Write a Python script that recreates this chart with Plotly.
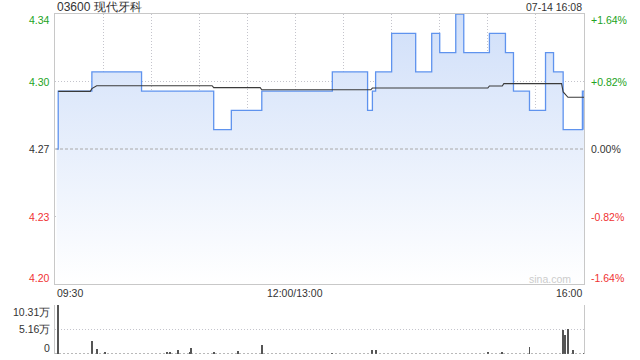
import plotly.graph_objects as go

# ---------------- data ----------------
title_text = "03600 现代牙科"
stamp_text = "07-14 16:08"
prev_close = 4.27
price_ticks = [4.20, 4.235, 4.27, 4.305, 4.34]
price_tick_labels = ["4.20", "4.23", "4.27", "4.30", "4.34"]
pct_tick_labels = ["-1.64%", "-0.82%", "0.00%", "+0.82%", "+1.64%"]
vol_ticks = [0, 51550, 103100]
vol_tick_labels = ["0", "5.16万", "10.31万"]
x_labels = ["09:30", "12:00/13:00", "16:00"]

price_times = ["09:31", "09:32", "09:53", "10:24", "11:09", "11:20", "11:39",
               "13:23", "13:45", "13:48", "13:50", "14:00", "14:15", "14:25",
               "14:30", "14:40", "14:45", "15:01", "15:11", "15:16", "15:26",
               "15:36", "15:41", "15:47", "15:59", "16:00"]
price_vals = [4.27, 4.30, 4.31, 4.30, 4.28, 4.29, 4.30,
              4.31, 4.29, 4.30, 4.31, 4.33, 4.31, 4.33,
              4.32, 4.34, 4.32, 4.33, 4.32, 4.30, 4.29,
              4.32, 4.31, 4.28, 4.30, 4.28]

avg_times = ["09:32", "09:52", "09:53", "09:55", "09:56", "11:08", "11:09",
             "11:38", "11:39", "13:47", "13:48", "15:00", "15:01", "15:09",
             "15:10", "15:46", "15:47", "15:50", "16:00"]
avg_vals = [4.2999, 4.2999, 4.3013, 4.3023, 4.3028, 4.3028, 4.3018,
            4.3018, 4.3007, 4.3007, 4.3016, 4.3016, 4.3027, 4.3027,
            4.3039, 4.3039, 4.2996, 4.2968, 4.2968]

vol_times = ["09:32", "09:53", "09:56", "10:01", "10:40", "10:42", "10:47",
             "10:54", "10:55", "11:09", "11:24", "11:39", "13:23", "13:48",
             "13:50", "15:00", "15:09", "15:26", "15:47", "15:48", "15:50",
             "15:53", "16:00"]
vol_vals = [103100, 28000, 11000, 4800, 4000, 4000, 9000,
            3500, 13000, 3500, 7000, 19500, 2000, 9000,
            9000, 3000, 5000, 14000, 51000, 39000, 53000,
            9000, 1500]


def to_min(t):
    h, m = map(int, t.split(":"))
    v = h * 60 + m - 570
    if h >= 13:
        v -= 60
    return v


px = [to_min(t) for t in price_times]
ax = [to_min(t) for t in avg_times]
vx = [to_min(t) for t in vol_times]
x_label_pos = [to_min(t) for t in ["09:30", "12:00", "16:00"]]
grid_x = list(range(30, 330, 30))

GREEN = "#22a322"
RED = "#f03232"
DARK = "#333333"
FONT = "Liberation Sans, Arial, sans-serif"
GRID = "#c4c4cc"
GDASH = "1px,2px"

fig = go.Figure()
fig.add_trace(go.Scatter(
    x=px, y=price_vals, mode="lines", line=dict(color="#5f93ee", width=1.3, shape="hv"),
    fill="tozeroy",
    fillgradient=dict(type="vertical",
                      colorscale=[[0, "rgba(255,255,255,1)"], [1, "rgb(208,223,249)"]],
                      start=price_ticks[0], stop=price_ticks[-1]),
    xaxis="x", yaxis="y", hoverinfo="skip"))
fig.add_trace(go.Scatter(
    x=ax, y=avg_vals, mode="lines", line=dict(color="#3a3a3a", width=1.1),
    xaxis="x", yaxis="y", hoverinfo="skip"))
fig.add_trace(go.Bar(
    x=vx, y=vol_vals, width=0.62, marker=dict(color="#555555", line=dict(width=0)),
    xaxis="x2", yaxis="y2", hoverinfo="skip"))

top_b = 0.20588
vol_t = 0.14412

fig.update_layout(
    width=640, height=360,
    margin=dict(l=55, r=56, t=14, b=6, autoexpand=False),
    paper_bgcolor="white", plot_bgcolor="white",
    showlegend=False, bargap=0,
    font=dict(family=FONT, size=11, color=DARK),
    xaxis=dict(domain=[0, 1], range=[0, 330], anchor="y", tickvals=grid_x,
               showticklabels=False, ticks="", showgrid=True, gridcolor=GRID,
               griddash=GDASH, gridwidth=1, showline=True, linecolor="#c8c8c8",
               linewidth=1, mirror=True, zeroline=False, fixedrange=True),
    yaxis=dict(domain=[top_b, 1], range=[price_ticks[0], price_ticks[-1]],
               tickvals=[price_ticks[1], price_ticks[3]], showticklabels=False, ticks="",
               showgrid=True, gridcolor=GRID, griddash=GDASH, gridwidth=1,
               showline=True, linecolor="#c8c8c8", linewidth=1, mirror=True,
               zeroline=False),
    xaxis2=dict(domain=[0, 1], range=[0, 330], anchor="y2", showgrid=False,
                showline=False, showticklabels=False, ticks="", zeroline=False),
    yaxis2=dict(domain=[0, vol_t], range=[0, vol_ticks[-1]], tickvals=vol_ticks[1:],
                showticklabels=False, ticks="", showgrid=True, gridcolor=GRID,
                griddash=GDASH, gridwidth=1, showline=True, linecolor="#c8c8c8",
                linewidth=1, mirror=True, zeroline=False),
)

# previous-close dashed line and volume baseline
fig.add_shape(type="line", xref="x domain", yref="y", x0=0, x1=1, y0=prev_close, y1=prev_close,
              line=dict(color="#a8a8a8", width=1, dash="3px,2px"))
fig.add_shape(type="line", xref="x2 domain", yref="y2", x0=0, x1=1, y0=0, y1=0,
              line=dict(color="#777777", width=1, dash="2px,2px"))

# title & timestamp
fig.add_annotation(text=title_text, xref="paper", yref="paper", x=0, y=1, xanchor="left",
                   yanchor="middle", yshift=7, showarrow=False,
                   font=dict(size=12, color=DARK, family=FONT))
fig.add_annotation(text=stamp_text, xref="paper", yref="paper", x=1, y=1, xanchor="right",
                   yanchor="middle", yshift=7, showarrow=False,
                   font=dict(size=10.5, color=DARK, family=FONT))

# price / pct labels
shifts = [6, 0, 0, 0, -6]
for v, lab, pl, sh in zip(price_ticks, price_tick_labels, pct_tick_labels, shifts):
    col = GREEN if v > prev_close + 1e-9 else (RED if v < prev_close - 1e-9 else DARK)
    fig.add_annotation(text=lab, xref="paper", yref="y", x=0, y=v, xanchor="right",
                       yanchor="middle", xshift=-3, yshift=sh, showarrow=False,
                       font=dict(size=10.5, color=col, family=FONT))
    fig.add_annotation(text=pl, xref="paper", yref="y", x=1, y=v, xanchor="left",
                       yanchor="middle", xshift=5, yshift=sh, showarrow=False,
                       font=dict(size=10.5, color=col, family=FONT))

# volume labels
vshifts = [6, 0, -7.5]
for v, lab, sh in zip(vol_ticks, vol_tick_labels, vshifts):
    fig.add_annotation(text=lab, xref="paper", yref="y2", x=0, y=v, xanchor="right",
                       yanchor="middle", xshift=-3, yshift=sh, showarrow=False,
                       font=dict(size=10.5, color=DARK, family=FONT))

# x labels
for xv, lab, anc in zip(x_label_pos, x_labels, ["left", "center", "right"]):
    fig.add_annotation(text=lab, xref="x", yref="paper", x=xv, y=top_b, xanchor=anc,
                       yanchor="middle", yshift=-9, showarrow=False,
                       font=dict(size=10.5, color=DARK, family=FONT))

# watermark
fig.add_annotation(text="sina.com", xref="paper", yref="y", x=1, y=price_ticks[0],
                   xanchor="right", yanchor="middle", xshift=-11, yshift=5, showarrow=False,
                   font=dict(size=10.5, color="#cccccc", family=FONT))

fig.write_html("out.html", config={"displayModeBar": False},
               post_script="document.body.style.margin='0';")
